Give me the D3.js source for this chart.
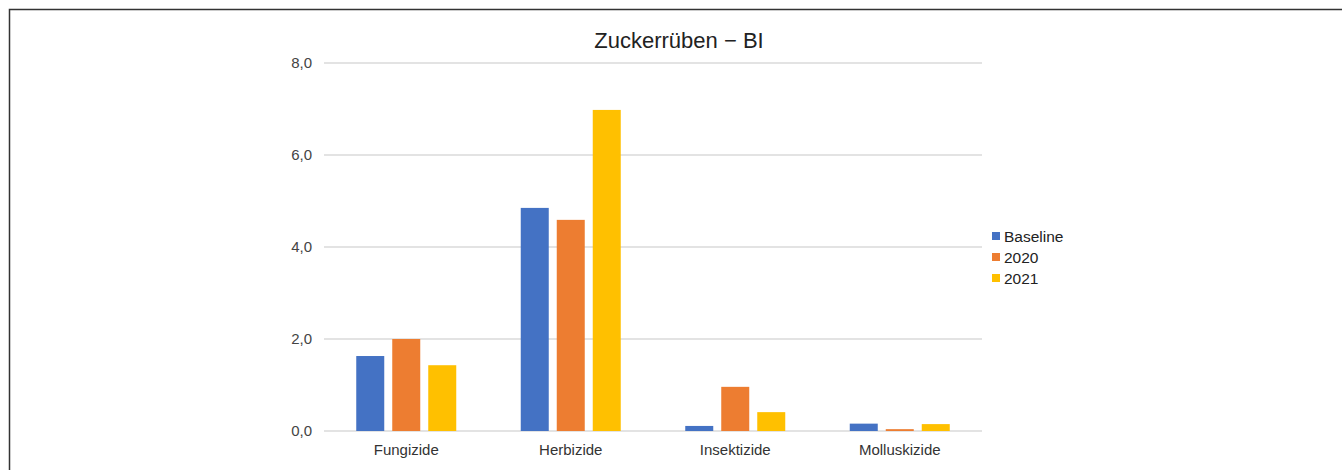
<!DOCTYPE html>
<html>
<head>
<meta charset="utf-8">
<script src="https://cdn.jsdelivr.net/npm/d3@7"></script>
<style>
  body { margin: 0; background: #fff; }
  svg { display: block; }
  svg text { font-family: Arial, "Liberation Sans", sans-serif; }
</style>
</head>
<body>
<div id="chart"></div>
<script>
// Zuckerrüben - BI: grouped bars per product category
const categories = ["Fungizide", "Herbizide", "Insektizide", "Molluskizide"];
const seriesNames = ["Baseline", "2020", "2021"];
const baseline = [1.63, 4.85, 0.11, 0.16];
const y2020 = [2.0, 4.59, 0.96, 0.04];
const y2021 = [1.43, 6.98, 0.41, 0.15];
const yTicks = [0, 2, 4, 6, 8];

const colors = ["#4472C4", "#ED7D31", "#FFC000"];
const seriesValues = [baseline, y2020, y2021];

const W = 1342, H = 470;
const margin = { top: 63, right: 360, bottom: 39, left: 324 };
const width = W - margin.left - margin.right;
const height = H - margin.top - margin.bottom;

const svg = d3.select("#chart").append("svg")
  .attr("width", W)
  .attr("height", H);

// frame
svg.append("path")
  .attr("d", `M9.5,${H} V9.5 H${W}`)
  .attr("fill", "none")
  .attr("stroke", "#333")
  .attr("stroke-width", 1.5);

const g = svg.append("g").attr("transform", `translate(${margin.left},${margin.top})`);

const x0 = d3.scaleBand().domain(categories).range([0, width]).paddingInner(0).paddingOuter(0);
const y = d3.scaleLinear().domain([0, 8]).range([height, 0]);

const barW = 28, step = 36;

// gridlines
g.append("g")
  .selectAll("line")
  .data(yTicks)
  .join("line")
  .attr("x1", 0)
  .attr("x2", width)
  .attr("y1", d => y(d))
  .attr("y2", d => y(d))
  .attr("stroke", "#dadada")
  .attr("stroke-width", 1.5);

// y axis labels
const yAxis = g.append("g")
  .call(d3.axisLeft(y).tickValues(yTicks).tickSize(0).tickPadding(12)
    .tickFormat(d => d3.format(".1f")(d).replace(".", ",")));
yAxis.select(".domain").remove();
yAxis.attr("font-family", null);
yAxis.selectAll("text").attr("font-size", "15px").attr("fill", "#444");

// x axis labels
const xAxis = g.append("g")
  .attr("transform", `translate(0,${height})`)
  .call(d3.axisBottom(x0).tickSize(0).tickPadding(13));
xAxis.select(".domain").remove();
xAxis.attr("font-family", null);
xAxis.selectAll("text").attr("font-size", "15px").attr("fill", "#333");

// bars
const rows = categories.map((c, i) => ({
  cat: c,
  vals: seriesNames.map((s, j) => ({ s: j, v: seriesValues[j][i] }))
}));

g.selectAll(".grp")
  .data(rows)
  .join("g")
  .attr("class", "grp")
  .attr("transform", d => `translate(${x0(d.cat) + x0.bandwidth() / 2},0)`)
  .selectAll("rect")
  .data(d => d.vals)
  .join("rect")
  .attr("x", d => (d.s - 1) * step - barW / 2)
  .attr("y", d => y(d.v))
  .attr("width", barW)
  .attr("height", d => height - y(d.v))
  .attr("fill", d => colors[d.s]);

// title
svg.append("text")
  .attr("x", 679)
  .attr("y", 48)
  .attr("text-anchor", "middle")
  .attr("font-size", "22px")
  .attr("fill", "#222")
  .text("Zuckerrüben − BI");

// legend
const legend = svg.append("g").attr("transform", "translate(992,236)");
legend.selectAll("g")
  .data(seriesNames)
  .join("g")
  .attr("transform", (d, i) => `translate(0,${i * 21})`)
  .each(function (d, i) {
    const e = d3.select(this);
    e.append("rect").attr("x", 0).attr("y", -4).attr("width", 8).attr("height", 8).attr("fill", colors[i]);
    e.append("text").attr("x", 12).attr("y", 5.5).attr("font-size", "15.5px").attr("fill", "#222").text(d);
  });
</script>
</body>
</html>
